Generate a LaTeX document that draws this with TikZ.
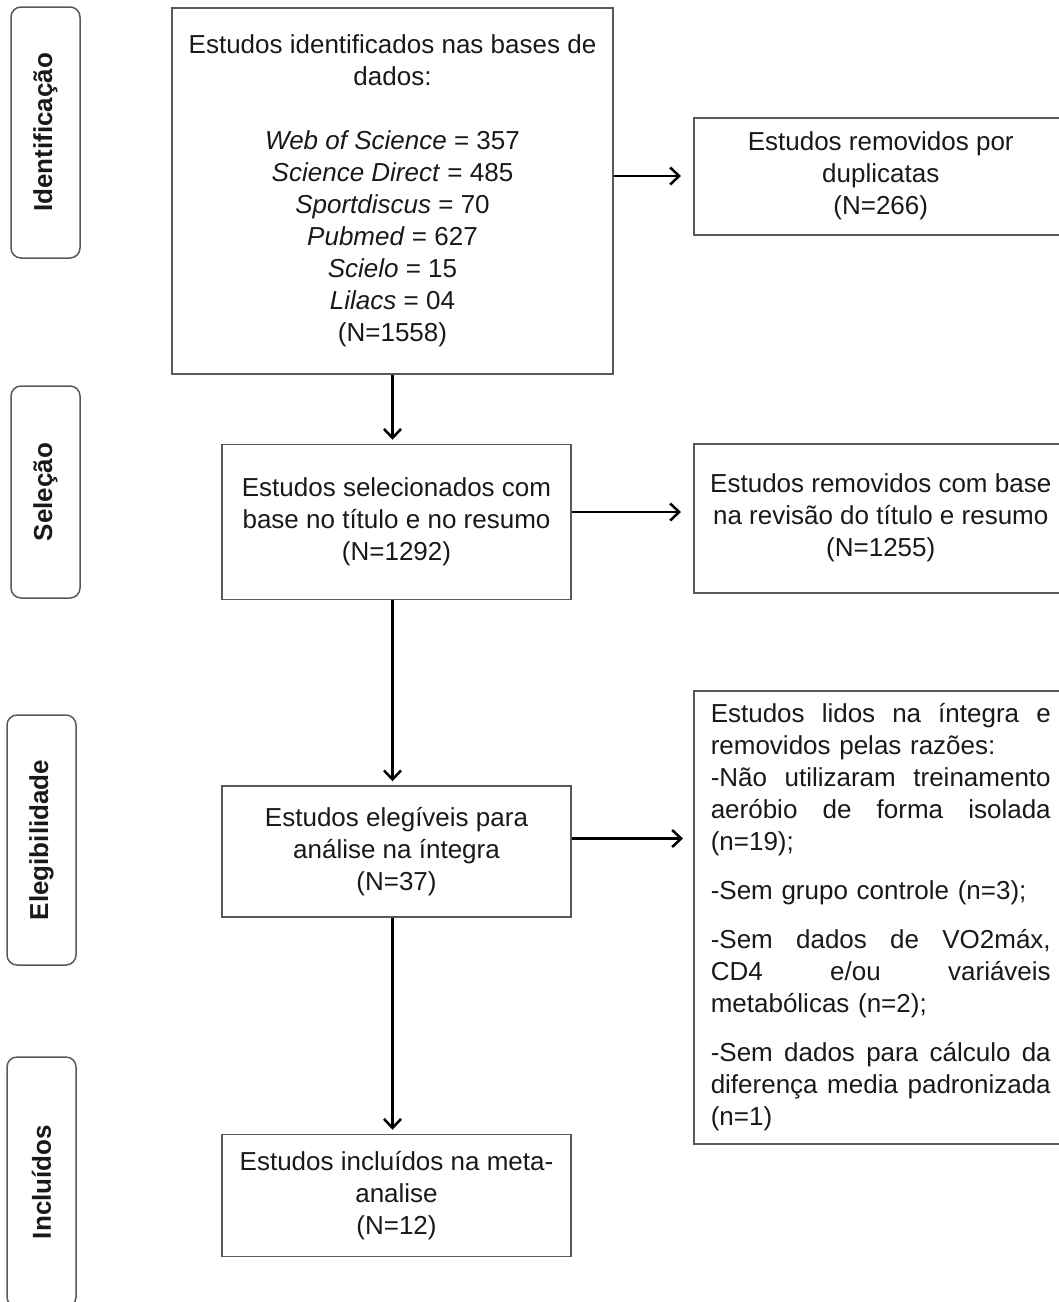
\documentclass[tikz,border=0pt]{standalone}
\usepackage{fontspec}
\setmainfont{Liberation Sans}
\usetikzlibrary{arrows.meta, positioning}

% justified line of the reasons box
\newcommand{\jline}[1]{\makebox[340pt][s]{\spaceskip=.278em plus 1fil\relax #1}}

\begin{document}
\begin{tikzpicture}[
            x = 1pt, y = -1pt, % pixel units, y grows downwards
            > = {Straight Barb[length=9pt, width=17pt]}, % arrow head style
            node distance = 69pt
        ]

        \tikzset{
            every node/.style = {font = \fontsize{26}{32}\selectfont, text = black!90},
            box/.style = {
                draw = black!65,
                line width = 1.5pt,
                align = center
            },
            phase/.style = {
                draw = black!65,
                line width = 1.5pt,
                rounded corners = 10pt,
                rotate = 90,
                minimum height = 69pt,
                font = \fontsize{26}{32}\selectfont\bfseries
            },
            arrow/.style = {->, black, line width = 2.5pt, shorten > = #1},
            arrow/.default = 4pt
        }

        \useasboundingbox (0,0) rectangle (1059,1302);

        % phases
        \node[phase, minimum width = 251pt] (lident) at (45.5,132.5) {Identificação};
        \node[phase, minimum width = 212pt] (lsel) at (45.5,492) {Seleção};
        \node[phase, minimum width = 250pt] (lelig) at (41.5,840) {Elegibilidade};
        \node[phase, minimum width = 250pt] (lincl) at (41.5,1182) {Incluídos};

        % main column
        \node[box, minimum width = 441pt, minimum height = 366pt] (ident) at (392.5,191)
            {Estudos identificados nas bases de\\dados:\\[32pt]
             \textit{Web of Science} = 357\\
             \textit{Science Direct} = 485\\
             \textit{Sportdiscus} = 70\\
             \textit{Pubmed} = 627\\
             \textit{Scielo} = 15\\
             \textit{Lilacs} = 04\\
             (N=1558)};
        \node[box, minimum width = 349pt, minimum height = 155pt, xshift = 4pt] (sel) [below=of ident]
            {Estudos selecionados com\\base no título e no resumo\\(N=1292)};
        \node[box, minimum width = 349pt, minimum height = 131pt] (elig) [below=185pt of sel]
            {Estudos elegíveis para\\análise na íntegra\\(N=37)};
        \node[box, minimum width = 349pt, minimum height = 122pt] (incl) [below=216pt of elig]
            {Estudos incluídos na meta-\\analise\\(N=12)};

        % removed studies
        \node[box, anchor = north west, minimum width = 374pt, minimum height = 117pt] (dup) at (693,117)
            {Estudos removidos por\\duplicatas\\(N=266)};
        \node[box, anchor = north west, minimum width = 374pt, minimum height = 149pt] (rev) at (693,443)
            {Estudos removidos com base\\na revisão do título e resumo\\(N=1255)};
        \node[box, anchor = north west, align = left, text width = 340pt, inner xsep = 17pt,
              minimum height = 453pt] (reasons) at (693,690)
            {\jline{Estudos lidos na íntegra e}\\
             removidos pelas razões:\\
             \jline{-Não utilizaram treinamento}\\
             \jline{aeróbio de forma isolada}\\
             (n=19);\\[17pt]
             -Sem grupo controle (n=3);\\[17pt]
             \jline{-Sem dados de VO2máx,}\\
             \jline{CD4 e/ou variáveis}\\
             metabólicas (n=2);\\[17pt]
             \jline{-Sem dados para cálculo da}\\
             \jline{diferença media padronizada}\\
             (n=1)};

        \draw[arrow] (ident.south) -- (ident.south |- sel.north);
        \draw[arrow] (ident.south |- sel.south) -- (ident.south |- elig.north);
        \draw[arrow] (ident.south |- elig.south) -- (ident.south |- incl.north);

        \draw[arrow=12pt] ([yshift=15pt]ident.east) -- ([yshift=15pt]ident.east -| dup.west);
        \draw[arrow=12pt] ([yshift=10pt]sel.east) -- ([yshift=10pt]sel.east -| rev.west);
        \draw[arrow=10pt] ([yshift=13pt]elig.east) -- ([yshift=13pt]elig.east -| reasons.west);

\end{tikzpicture}
\end{document}
